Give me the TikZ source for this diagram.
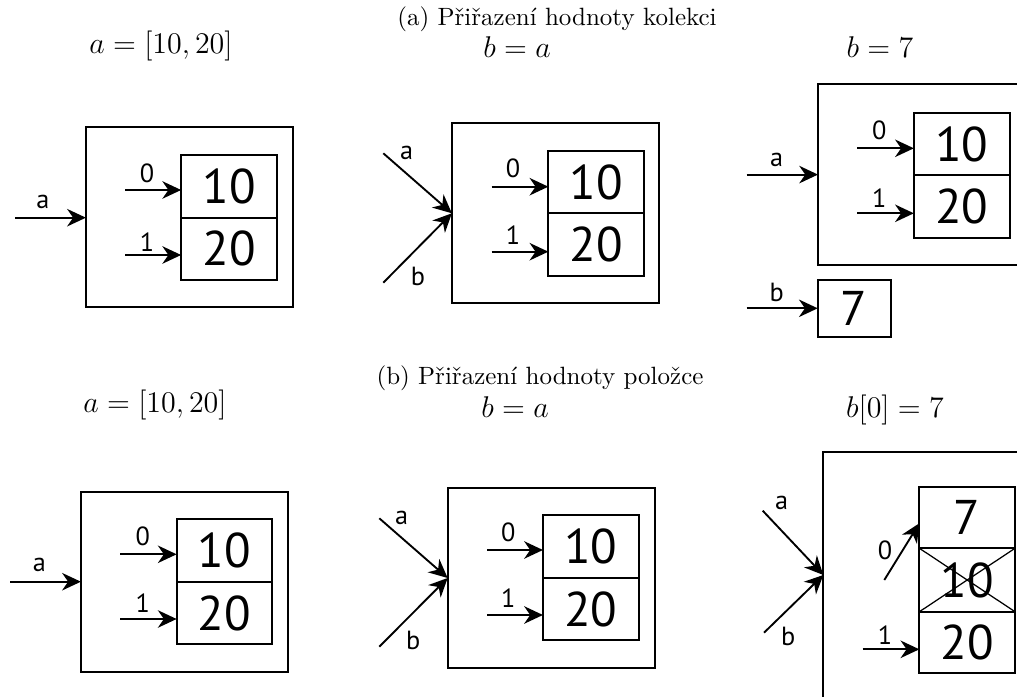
\documentclass[tikz,border=0pt]{standalone}
\usepackage{fontspec}
\newfontfamily\lblfont{PT Sans}
\usetikzlibrary{arrows.meta,positioning,calc}
\begin{document}
\begin{tikzpicture}[x=0.4pt,y=-0.4pt,
 box/.style={draw, line width=0.8pt, inner sep=0pt, outer sep=0pt},
 outerbox/.style={box, minimum width=82.9pt, minimum height=72pt},
 cell/.style={box, minimum width=38.3pt, minimum height=25pt, font=\lblfont\fontsize{19.5}{19.5}\selectfont},
 ptr/.style={-{Stealth[length=7.5pt,width=7pt,inset=2.4pt]}, line width=0.75pt},
 lbl/.style={font=\lblfont\fontsize{10.5}{10.5}\selectfont, inner sep=0pt},
 ttl/.style={anchor=base, inner sep=0pt},
 mttl/.style={ttl, font=\fontsize{12.5}{14}\selectfont},
 cross/.style={line width=0.5pt},
]
\useasboundingbox (0,0) rectangle (1017,697);
\clip (0,0) rectangle (1017,697);

% ---------- titles ----------
\node[ttl] (capa) at (557,26) {(a) Přiřazení hodnoty kolekci};
\node[mttl] (ta1) at (161,54) {$a=[10,20]$};
\node[mttl] (ta2) at (517,58) {$b=a$};
\node[mttl] (ta3) at (880,58) {$b=7$};
\node[ttl] (capb) at (540,385) {(b) Přiřazení hodnoty položce};
\node[mttl] (tb1) at (155,413) {$a=[10,20]$};
\node[mttl] (tb2) at (515,418) {$b=a$};
\node[mttl] (tb3) at (895,418) {$b[0]=7$};

% ---------- top left ----------
\node[outerbox] (tlo) at (189.5,216.9) {};
\node[cell] (tl0) at (229,186.3) {10};
\node[cell, below=0pt of tl0] (tl1) {20};
\coordinate (tla) at (15,217.7);
\draw[ptr] (tla) -- (tla -| tlo.west);
\node[lbl] (tlla) at (43,202) {a};
\coordinate (tlp0) at (125,190);
\draw[ptr] (tlp0) -- (tlp0 -| tl0.west);
\coordinate (tlp1) at (125,255);
\draw[ptr] (tlp1) -- (tlp1 -| tl1.west);
\node[lbl] (tll0) at (147,173) {0};
\node[lbl] (tll1) at (147,242) {1};

% ---------- top middle ----------
\node[outerbox] (tmo) at (555.5,213.3) {};
\node[cell] (tm0) at (596.2,182.2) {10};
\node[cell, below=0pt of tm0] (tm1) {20};
\coordinate (tma) at (383.3,153.3);
\coordinate (tmb) at (383.3,282.7);
\draw[ptr] (tma) -- (tmo.west);
\draw[ptr] (tmb) -- (tmo.west);
\node[lbl] (tmla) at (406.7,153) {a};
\node[lbl] (tmlb) at (418,276.7) {b};
\coordinate (tmp0) at (491.7,186.7);
\draw[ptr] (tmp0) -- (tmp0 -| tm0.west);
\coordinate (tmp1) at (491.7,251.7);
\draw[ptr] (tmp1) -- (tmp1 -| tm1.west);
\node[lbl] (tml0) at (513,168) {0};
\node[lbl] (tml1) at (513,235) {1};

% ---------- top right ----------
\node[outerbox, minimum width=112.8pt, minimum height=72.3pt] (tro) at (959,174.6) {};
\node[cell] (tr0) at (961.7,144) {10};
\node[cell, below=0pt of tr0] (tr1) {20};
\coordinate (tra) at (746.7,174.6);
\draw[ptr] (tra) -- (tro.west);
\node[lbl] (trla) at (776.7,160) {a};
\coordinate (trp0) at (857.3,148.3);
\draw[ptr] (trp0) -- (trp0 -| tr0.west);
\coordinate (trp1) at (857.3,213.3);
\draw[ptr] (trp1) -- (trp1 -| tr1.west);
\node[lbl] (trl0) at (879.3,130) {0};
\node[lbl] (trl1) at (879.3,198.3) {1};
\node[cell, minimum width=29.2pt, minimum height=22.7pt] (tr7) at (854.2,308.3) {7};
\coordinate (trb) at (746.7,308.3);
\draw[ptr] (trb) -- (tr7.west);
\node[lbl] (trlb) at (776.7,292.7) {b};

% ---------- bottom left ----------
\node[outerbox] (blo) at (184.5,581.7) {};
\node[cell] (bl0) at (224.5,550.5) {10};
\node[cell, below=0pt of bl0] (bl1) {20};
\coordinate (bla) at (10,581.7);
\draw[ptr] (bla) -- (bla -| blo.west);
\node[lbl] (blla) at (39.3,565) {a};
\coordinate (blp0) at (120,554.3);
\draw[ptr] (blp0) -- (blp0 -| bl0.west);
\coordinate (blp1) at (120,619);
\draw[ptr] (blp1) -- (blp1 -| bl1.west);
\node[lbl] (bll0) at (142.7,536.7) {0};
\node[lbl] (bll1) at (142.7,603.3) {1};

% ---------- bottom middle ----------
\node[outerbox] (bmo) at (551.3,578) {};
\node[cell] (bm0) at (590.8,546.7) {10};
\node[cell, below=0pt of bm0] (bm1) {20};
\coordinate (bma) at (379.3,518.3);
\coordinate (bmb) at (379.3,646.7);
\draw[ptr] (bma) -- (bmo.west);
\draw[ptr] (bmb) -- (bmo.west);
\node[lbl] (bmla) at (401.7,518.3) {a};
\node[lbl] (bmlb) at (413.3,640) {b};
\coordinate (bmp0) at (487.3,550);
\draw[ptr] (bmp0) -- (bmp0 -| bm0.west);
\coordinate (bmp1) at (487.3,615);
\draw[ptr] (bmp1) -- (bmp1 -| bm1.west);
\node[lbl] (bml0) at (508.3,532.7) {0};
\node[lbl] (bml1) at (508.3,598.3) {1};

% ---------- bottom right ----------
\node[outerbox, minimum width=110.7pt, minimum height=123.1pt] (bro) at (961.7,606.2) {};
\node[cell, minimum width=38.3pt, minimum height=24.6pt] (br0) at (967.2,517.5) {7};
\node[cell, minimum width=38.3pt, minimum height=25.4pt, below=0pt of br0] (br1) {10};
\node[cell, minimum width=38.3pt, minimum height=24.6pt, below=0pt of br1] (br2) {20};
\draw[cross] (br1.north west) -- (br1.south east);
\draw[cross] (br1.south west) -- (br1.north east);
\coordinate (brhit) at (823.3,575);
\coordinate (bra) at (762.7,510.7);
\coordinate (brb) at (764,632.7);
\draw[ptr] (bra) -- (brhit -| bro.west);
\draw[ptr] (brb) -- (brhit -| bro.west);
\node[lbl] (brla) at (781.7,503.3) {a};
\node[lbl] (brlb) at (788.3,636.7) {b};
\coordinate (brp0) at (884.3,580);
\coordinate (brq0) at (919.3,523.3);
\draw[ptr] (brp0) -- (brq0 -| br0.west);
\coordinate (brp1) at (862.7,649.3);
\draw[ptr] (brp1) -- (brp1 -| br2.west);
\node[lbl] (brl0) at (885,550) {0};
\node[lbl] (brl1) at (885,635) {1};
\end{tikzpicture}
\end{document}
